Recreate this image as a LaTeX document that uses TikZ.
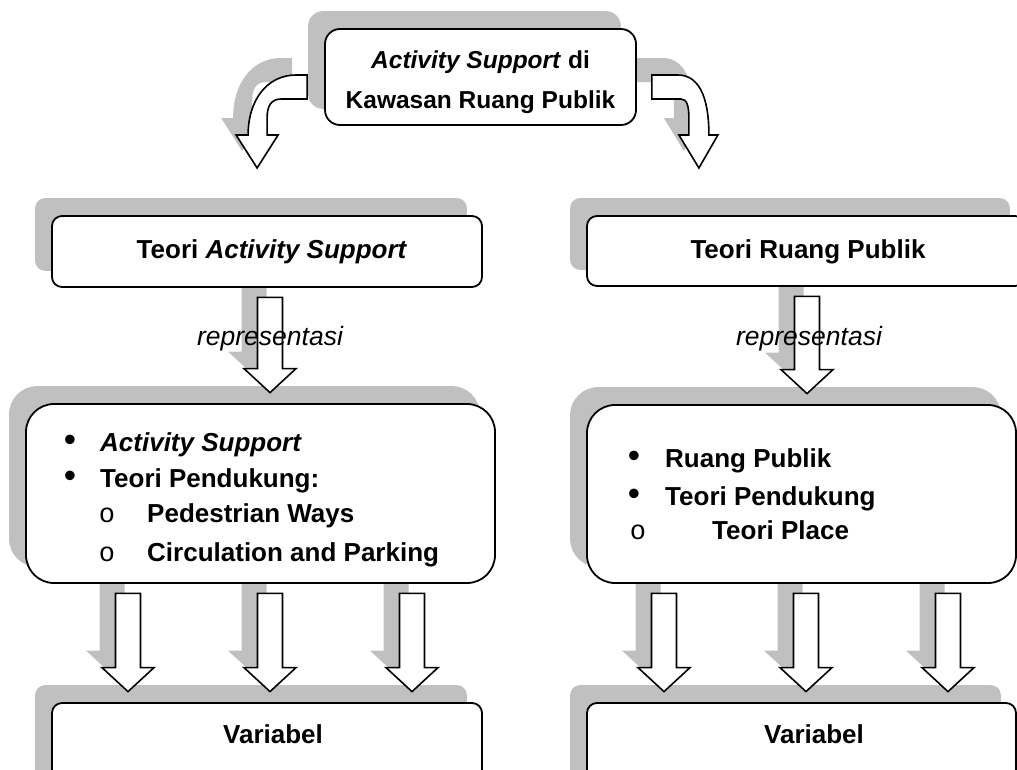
\documentclass[tikz,border=0pt]{standalone}
\usepackage{fontspec}
\setmainfont{Liberation Sans}
\newfontfamily\monof{Liberation Mono}
\usetikzlibrary{calc}
\definecolor{shadowgray}{RGB}{192,192,192}
\pgfdeclarelayer{shadow}
\pgfdeclarelayer{arrows}
\pgfsetlayers{shadow,arrows,main}
\newcommand\txtfont{\fontsize{26}{30}\selectfont\bfseries}
\newcommand\topfont{\fontsize{24.5}{30}\selectfont\bfseries}
\newcommand\repfont{\fontsize{26.5}{30}\selectfont\itshape}
\newcommand\bulfont{\fontsize{35}{35}\selectfont}
\newcommand\subfont{\fontsize{27}{30}\selectfont\monof}
\tikzset{
  box/.style={draw, line width=1.8pt, fill=white, inner sep=0pt, rectangle},
  blk/.style={draw, line width=1.6pt, fill=white, line join=miter},
  lbl/.style={font=\txtfont, inner sep=0pt, anchor=base},
  toplbl/.style={font=\topfont, inner sep=0pt, anchor=base},
  lblw/.style={font=\txtfont, inner sep=0pt, anchor=base west},
  rep/.style={font=\repfont, inner sep=0pt, anchor=base},
  bul/.style={font=\bulfont, inner sep=0pt, anchor=center},
  subbul/.style={font=\subfont, inner sep=0pt, anchor=base},
}
\newcommand\boxshadow[2]{%
  \begin{pgfonlayer}{shadow}
    \fill[shadowgray, rounded corners=#2] ([shift={(-16,-17)}]#1.north west) rectangle ([shift={(-16,-17)}]#1.south east);
  \end{pgfonlayer}}
\newcommand\downblk[3]{%
  \begin{pgfonlayer}{shadow}
    \path[fill=shadowgray] let \p1=(#1.south), \p2=(#2.north) in
      (#3pt-28.5pt,\y1+7.5pt) -- (#3pt-3.5pt,\y1+7.5pt) -- (#3pt-3.5pt,\y2+51.5pt)
      -- (#3pt+10pt,\y2+51.5pt) -- (#3pt-16pt,\y2+27.5pt) -- (#3pt-42pt,\y2+51.5pt)
      -- (#3pt-28.5pt,\y2+51.5pt) -- cycle;
  \end{pgfonlayer}
  \begin{pgfonlayer}{arrows}
    \path[blk] let \p1=(#1.south), \p2=(#2.north) in
      (#3pt-12.5pt,\y1-9.5pt) -- (#3pt+12.5pt,\y1-9.5pt) -- (#3pt+12.5pt,\y2+34.5pt)
      -- (#3pt+26pt,\y2+34.5pt) -- (#3pt,\y2+10.5pt) -- (#3pt-26pt,\y2+34.5pt)
      -- (#3pt-12.5pt,\y2+34.5pt) -- cycle;
  \end{pgfonlayer}}
\begin{document}
\begin{tikzpicture}[x=1pt,y=-1pt]
\useasboundingbox (0,0) rectangle (1017,769);
% boxes
\node[box, minimum width=311pt, minimum height=96pt, rounded corners=15pt] (top) at (480.5,77) {};
\node[box, minimum width=430pt, minimum height=71pt, rounded corners=10pt] (tAS) at (267,251.5) {};
\node[box, minimum width=438pt, minimum height=70pt, rounded corners=10pt] (tRP) at (806,251) {};
\node[box, minimum width=469pt, minimum height=179pt, rounded corners=28pt] (mAS) at (260.5,493.5) {};
\node[box, minimum width=429pt, minimum height=178pt, rounded corners=28pt] (mRP) at (801.5,494) {};
\node[box, minimum width=430pt, minimum height=100pt, rounded corners=10pt] (vAS) at (267,753) {};
\node[box, minimum width=429pt, minimum height=100pt, rounded corners=10pt] (vRP) at (801.5,753) {};
\boxshadow{top}{15pt}
\boxshadow{tAS}{10pt}
\boxshadow{tRP}{10pt}
\boxshadow{mAS}{28pt}
\boxshadow{mRP}{28pt}
\boxshadow{vAS}{10pt}
\boxshadow{vRP}{10pt}
% curved arrows
\coordinate (L) at ($(top.west)+(-17,10)$);
\coordinate (R) at ($(top.east)+(15,10)$);
\begin{pgfonlayer}{shadow}
  \begin{scope}[shift={(L)}]
    \fill[shadowgray, shift={(-15,-17)}] (0,-12) -- (-11,-12) .. controls (-40,-12) and (-59,13) .. (-59,48) -- (-71,48) -- (-50,81) -- (-29,48) -- (-40,48) -- (-40,31) .. controls (-40,19) and (-36,12) .. (-26,12) -- (0,12) -- cycle;
  \end{scope}
  \begin{scope}[shift={(R)}]
    \fill[shadowgray, shift={(-15,-17)}] (0,-12) -- (26,-12) .. controls (46,-12) and (57,8) .. (57,48) -- (66,48) -- (47,81) -- (27,48) -- (37,48) -- (37,31) .. controls (37,19) and (35,12) .. (29,12) -- (0,12) -- cycle;
  \end{scope}
\end{pgfonlayer}
\begin{pgfonlayer}{arrows}
  \begin{scope}[shift={(L)}]
    \path[blk] (0,-12) -- (-11,-12) .. controls (-40,-12) and (-59,13) .. (-59,48) -- (-71,48) -- (-50,81) -- (-29,48) -- (-40,48) -- (-40,31) .. controls (-40,19) and (-36,12) .. (-26,12) -- (0,12) -- cycle;
  \end{scope}
  \begin{scope}[shift={(R)}]
    \path[blk] (0,-12) -- (26,-12) .. controls (46,-12) and (57,8) .. (57,48) -- (66,48) -- (47,81) -- (27,48) -- (37,48) -- (37,31) .. controls (37,19) and (35,12) .. (29,12) -- (0,12) -- cycle;
  \end{scope}
\end{pgfonlayer}
% straight block arrows
\downblk{tAS}{mAS}{270}
\downblk{tRP}{mRP}{807}
\downblk{mAS}{vAS}{128}
\downblk{mAS}{vAS}{270}
\downblk{mAS}{vAS}{412}
\downblk{mRP}{vRP}{664}
\downblk{mRP}{vRP}{806}
\downblk{mRP}{vRP}{948}
% texts
\node[toplbl] (t1) at (480.5,68) {\textit{Activity Support} di};
\node[toplbl] (t2) at (480.5,108) {Kawasan Ruang Publik};
\node[lbl] (tASt) at (272,258) {Teori \textit{Activity Support}};
\node[lbl] (tRPt) at (808,258) {Teori Ruang Publik};
\node[rep] (rep1) at (270,345) {representasi};
\node[rep] (rep2) at (809,345) {representasi};
% left list
\node[bul] (b1) at (70,443) {•};
\node[lblw] (l1) at (100,451) {\textit{Activity Support}};
\node[bul] (b2) at (70,479) {•};
\node[lblw] (l2) at (100,487) {Teori Pendukung:};
\node[subbul] (s1) at (107,522) {o};
\node[lblw] (l3) at (147,522) {Pedestrian Ways};
\node[subbul] (s2) at (107,561) {o};
\node[lblw] (l4) at (147,561) {Circulation and Parking};
% right list
\node[bul] (b3) at (634,459) {•};
\node[lblw] (r1) at (665,467) {Ruang Publik};
\node[bul] (b4) at (634,497) {•};
\node[lblw] (r2) at (665,505) {Teori Pendukung};
\node[subbul] (s3) at (638,539) {o};
\node[lblw] (r3) at (712,539) {Teori Place};
% bottom
\node[lbl] (vASt) at (273,743) {Variabel};
\node[lbl] (vRPt) at (814,743) {Variabel};
\end{tikzpicture}
\end{document}
